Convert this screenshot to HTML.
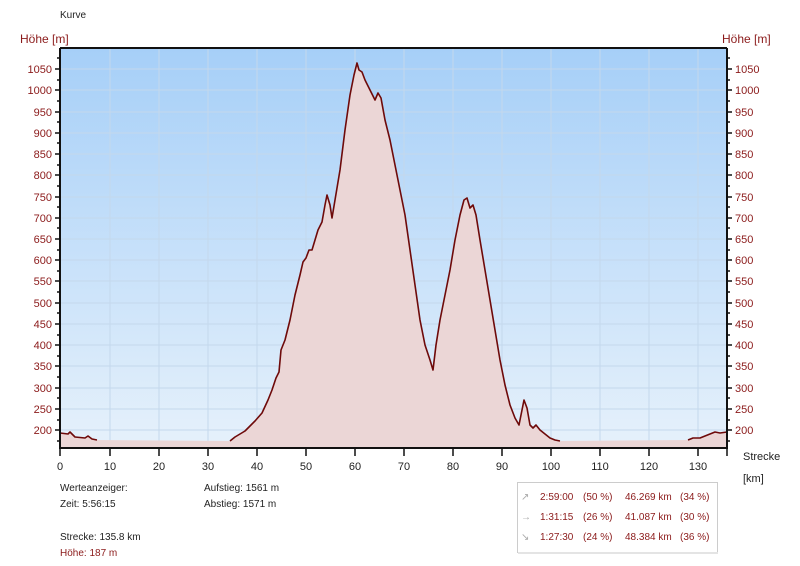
<!DOCTYPE html>
<html><head><meta charset="utf-8"><style>
body{margin:0;background:#fff;}
svg{display:block;font-family:"Liberation Sans","DejaVu Sans",sans-serif;}
</style></head><body>
<svg width="800" height="566" viewBox="0 0 800 566" xmlns="http://www.w3.org/2000/svg">
<defs>
<linearGradient id="bg" x1="0" y1="0" x2="0" y2="1">
<stop offset="0" stop-color="#a6cff8"/>
<stop offset="1" stop-color="#e6f1fb"/>
</linearGradient>
</defs>
<rect x="60" y="48" width="667" height="400" fill="url(#bg)"/>
<g stroke="#c4d8ec" stroke-width="1">
<path d="M110 48V448M159 48V448M208 48V448M257 48V448M306 48V448M355 48V448M404 48V448M453 48V448M502 48V448M551 48V448M600 48V448M649 48V448M698 48V448"/>
<path d="M60 430H727M60 409H727M60 388H727M60 366H727M60 345H727M60 324H727M60 303H727M60 281H727M60 260H727M60 239H727M60 218H727M60 197H727M60 175H727M60 154H727M60 133H727M60 112H727M60 90H727M60 69H727"/>
</g>
<rect x="60" y="441" width="667" height="7" fill="#ebd6d6"/>
<path fill="#ebd6d6" d="M60 441L60 433L68 434L70 432L75 437L85 438L88 436L92 439L97 440L230 441L235 437L240 434L245 431L250 426L255 421L262 413L268 400L272 390L276 378L279 372L281 350L285 340L290 320L295 295L300 275L303 262L306 258L309 250L312 250L315 240L318 230L322 222L325 205L327 195L330 205L332 218L335 200L340 170L345 130L350 95L354 75L357 63L359 70L362 72L365 80L370 90L375 100L378 93L381 98L385 120L390 140L395 165L400 190L405 215L410 250L415 285L420 320L425 345L430 360L433 370L436 345L440 320L445 295L450 270L455 240L460 215L464 200L467 198L470 208L473 205L476 215L480 240L485 270L490 300L495 330L500 360L505 385L510 405L515 418L519 425L522 410L524 400L527 408L530 425L533 428L536 425L540 430L545 434L550 438L555 440L560 441L688 440L693 438L700 438L705 436L715 432L720 433L727 432L727 441Z"/>
<g fill="none" stroke="#6e0a0a" stroke-width="1.6" stroke-linejoin="round">
<path d="M60 433L68 434L70 432L75 437L85 438L88 436L92 439L97 440"/>
<path d="M230 441L235 437L240 434L245 431L250 426L255 421L262 413L268 400L272 390L276 378L279 372L281 350L285 340L290 320L295 295L300 275L303 262L306 258L309 250L312 250L315 240L318 230L322 222L325 205L327 195L330 205L332 218L335 200L340 170L345 130L350 95L354 75L357 63L359 70L362 72L365 80L370 90L375 100L378 93L381 98L385 120L390 140L395 165L400 190L405 215L410 250L415 285L420 320L425 345L430 360L433 370L436 345L440 320L445 295L450 270L455 240L460 215L464 200L467 198L470 208L473 205L476 215L480 240L485 270L490 300L495 330L500 360L505 385L510 405L515 418L519 425L522 410L524 400L527 408L530 425L533 428L536 425L540 430L545 434L550 438L555 440L560 441"/>
<path d="M688 440L693 438L700 438L705 436L715 432L720 433L727 432"/>
</g>
<g stroke="#111" stroke-width="2" fill="none">
<path d="M60 48V449M727 48V449M59 448H728M60 48H727"/>
</g>
<g stroke="#111" stroke-width="1.5">
<path d="M55 430H60M55 409H60M55 388H60M55 366H60M55 345H60M55 324H60M55 303H60M55 281H60M55 260H60M55 239H60M55 218H60M55 197H60M55 175H60M55 154H60M55 133H60M55 112H60M55 90H60M55 69H60"/>
<path d="M57 441H60M57 420H60M57 398H60M57 377H60M57 356H60M57 335H60M57 313H60M57 292H60M57 271H60M57 250H60M57 228H60M57 207H60M57 186H60M57 165H60M57 143H60M57 122H60M57 101H60M57 80H60M57 58H60"/>
<path d="M727 430H732M727 409H732M727 388H732M727 366H732M727 345H732M727 324H732M727 303H732M727 281H732M727 260H732M727 239H732M727 218H732M727 197H732M727 175H732M727 154H732M727 133H732M727 112H732M727 90H732M727 69H732"/>
<path d="M727 441H730M727 420H730M727 398H730M727 377H730M727 356H730M727 335H730M727 313H730M727 292H730M727 271H730M727 250H730M727 228H730M727 207H730M727 186H730M727 165H730M727 143H730M727 122H730M727 101H730M727 80H730M727 58H730"/>
<path d="M60 448V456M110 448V456M159 448V456M208 448V456M257 448V456M306 448V456M355 448V456M404 448V456M453 448V456M502 448V456M551 448V456M600 448V456M649 448V456M698 448V456M727 448V456"/>
</g>
<g font-size="11" fill="#8b1a1a" text-anchor="end">
<text x="52" y="434">200</text><text x="52" y="413">250</text><text x="52" y="392">300</text><text x="52" y="370">350</text><text x="52" y="349">400</text><text x="52" y="328">450</text><text x="52" y="307">500</text><text x="52" y="285">550</text><text x="52" y="264">600</text><text x="52" y="243">650</text><text x="52" y="222">700</text><text x="52" y="201">750</text><text x="52" y="179">800</text><text x="52" y="158">850</text><text x="52" y="137">900</text><text x="52" y="116">950</text><text x="52" y="94">1000</text><text x="52" y="73">1050</text>
</g>
<g font-size="11" fill="#8b1a1a">
<text x="735" y="434">200</text><text x="735" y="413">250</text><text x="735" y="392">300</text><text x="735" y="370">350</text><text x="735" y="349">400</text><text x="735" y="328">450</text><text x="735" y="307">500</text><text x="735" y="285">550</text><text x="735" y="264">600</text><text x="735" y="243">650</text><text x="735" y="222">700</text><text x="735" y="201">750</text><text x="735" y="179">800</text><text x="735" y="158">850</text><text x="735" y="137">900</text><text x="735" y="116">950</text><text x="735" y="94">1000</text><text x="735" y="73">1050</text>
<text x="20" y="43" font-size="12">Höhe [m]</text>
<text x="722" y="43" font-size="12">Höhe [m]</text>
</g>
<g font-size="11" fill="#222" text-anchor="middle">
<text x="60" y="470">0</text><text x="110" y="470">10</text><text x="159" y="470">20</text><text x="208" y="470">30</text><text x="257" y="470">40</text><text x="306" y="470">50</text><text x="355" y="470">60</text><text x="404" y="470">70</text><text x="453" y="470">80</text><text x="502" y="470">90</text><text x="551" y="470">100</text><text x="600" y="470">110</text><text x="649" y="470">120</text><text x="698" y="470">130</text>
</g>
<g font-size="10" fill="#222">
<text x="60" y="18">Kurve</text>
<text x="743" y="460" font-size="11">Strecke</text>
<text x="743" y="482" font-size="11">[km]</text>
<text x="60" y="491">Werteanzeiger:</text>
<text x="60" y="507">Zeit: 5:56:15</text>
<text x="204" y="491">Aufstieg: 1561 m</text>
<text x="204" y="507">Abstieg: 1571 m</text>
<text x="60" y="540">Strecke: 135.8 km</text>
<text x="60" y="556" fill="#8b1a1a">Höhe: 187 m</text>
</g>
<rect x="517.5" y="482.5" width="200" height="70" fill="#fff" stroke="#ccc"/>
<rect x="518" y="552" width="200" height="2" fill="#e4e4e4"/>
<g font-size="10" fill="#8b1a1a">
<text x="521" y="500" fill="#aaa">↗</text><text x="540" y="500">2:59:00</text><text x="583" y="500">(50 %)</text><text x="625" y="500">46.269 km</text><text x="680" y="500">(34 %)</text>
<text x="521" y="520" fill="#aaa">→</text><text x="540" y="520">1:31:15</text><text x="583" y="520">(26 %)</text><text x="625" y="520">41.087 km</text><text x="680" y="520">(30 %)</text>
<text x="521" y="540" fill="#aaa">↘</text><text x="540" y="540">1:27:30</text><text x="583" y="540">(24 %)</text><text x="625" y="540">48.384 km</text><text x="680" y="540">(36 %)</text>
</g>
</svg>
</body></html>
